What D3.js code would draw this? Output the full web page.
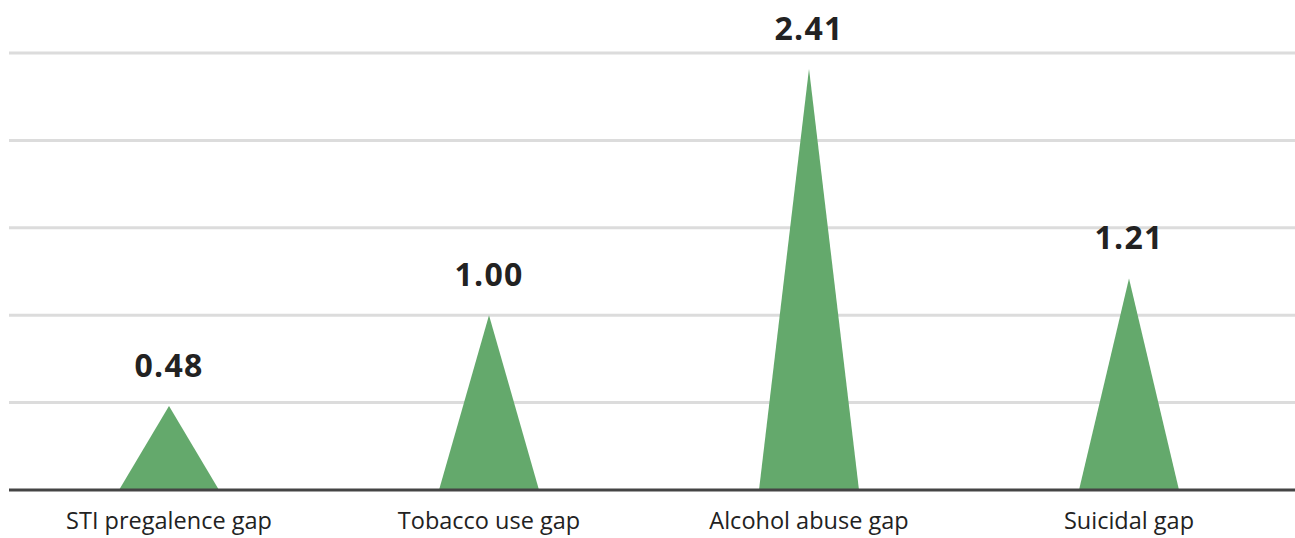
<!DOCTYPE html>
<html>
<head>
<meta charset="utf-8">
<script src="https://cdn.jsdelivr.net/npm/d3@7"></script>
<style>
  html, body { margin: 0; padding: 0; background: #fff; }
  svg { display: block; }
</style>
</head>
<body>
<svg id="chart" width="1295" height="538"></svg>
<script>
// Gap values per indicator
const categories = ["STI pregalence gap", "Tobacco use gap", "Alcohol abuse gap", "Suicidal gap"];
const values = [0.48, 1.00, 2.41, 1.21];
const gridTicks = [0.5, 1.0, 1.5, 2.0, 2.5];

(function () {
  const svg = d3.select("#chart");
  const plotLeft = 9, plotRight = 1295, plotTop = 53, plotBottom = 490;

  const x = d3.scaleBand()
    .domain(categories)
    .range([plotLeft, 1289])
    .paddingInner(0.6875)
    .paddingOuter(0.34375);

  const y = d3.scaleLinear()
    .domain([0, 2.5])
    .range([plotBottom, plotTop]);

  // horizontal gridlines
  svg.append("g")
    .selectAll("line")
    .data(gridTicks)
    .join("line")
    .attr("x1", plotLeft)
    .attr("x2", plotRight)
    .attr("y1", d => y(d))
    .attr("y2", d => y(d))
    .attr("stroke", "#dcdcdc")
    .attr("stroke-width", 3);

  // triangular peaks
  const data = categories.map((c, i) => ({ cat: c, value: values[i] }));
  svg.append("g")
    .selectAll("path")
    .data(data)
    .join("path")
    .attr("d", d => {
      const x0 = x(d.cat), x1 = x0 + x.bandwidth(), xm = x0 + x.bandwidth() / 2;
      return `M${x0},${y(0)}L${xm},${y(d.value)}L${x1},${y(0)}Z`;
    })
    .attr("fill", "#64a96c");

  // baseline
  svg.append("line")
    .attr("x1", plotLeft)
    .attr("x2", plotRight)
    .attr("y1", y(0))
    .attr("y2", y(0))
    .attr("stroke", "#444")
    .attr("stroke-width", 3);

  // value labels
  svg.append("g")
    .selectAll("text")
    .data(data)
    .join("text")
    .attr("x", d => x(d.cat) + x.bandwidth() / 2)
    .attr("y", d => y(d.value) - 29)
    .attr("text-anchor", "middle")
    .attr("font-family", "'Open Sans', sans-serif")
    .attr("font-weight", 700)
    .attr("font-size", 32)
    .attr("letter-spacing", 1.2)
    .attr("fill", "#222")
    .text(d => d.value.toFixed(2));

  // category labels
  svg.append("g")
    .selectAll("text")
    .data(categories)
    .join("text")
    .attr("x", d => x(d) + x.bandwidth() / 2)
    .attr("y", 529)
    .attr("text-anchor", "middle")
    .attr("font-family", "'Open Sans', sans-serif")
    .attr("font-size", 23.5)
    .attr("fill", "#222")
    .text(d => d);
})();
</script>
</body>
</html>
